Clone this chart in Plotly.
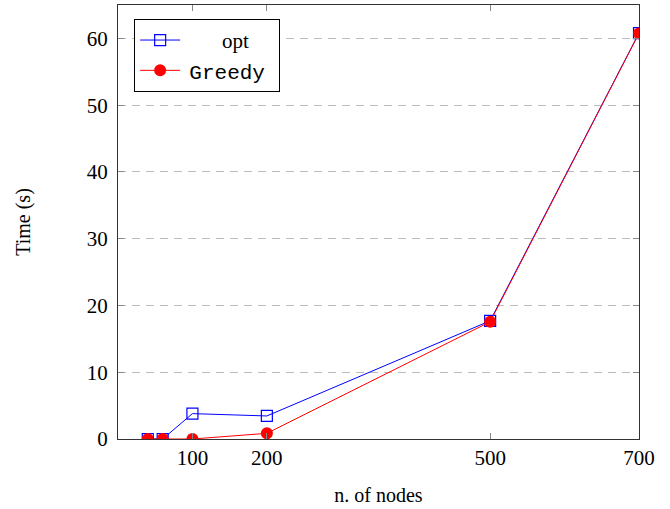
import plotly.graph_objects as go

nodes = [40, 60, 100, 200, 500, 700]
opt_time = [0.0, 0.0, 3.8, 3.45, 17.7, 60.8]
greedy_time = [0.0, 0.0, 0.0, 0.85, 17.55, 60.75]
x_ticks = [100, 200, 500, 700]
y_ticks = [0, 10, 20, 30, 40, 50, 60]

serif = "Liberation Serif, Times New Roman, serif"

fig = go.Figure()
fig.add_trace(go.Scatter(
    x=nodes, y=opt_time, mode="lines+markers", name="       opt",
    line=dict(color="blue", width=1),
    marker=dict(symbol="square-open", size=11, color="blue", line=dict(width=1.2, color="blue")),
))
fig.add_trace(go.Scatter(
    x=nodes, y=greedy_time, mode="lines+markers",
    name="<span style='font-family:Liberation Mono, monospace'>\u2009Greedy\u2009\u2009</span>",
    line=dict(color="red", width=1),
    marker=dict(symbol="circle", size=12, color="red"),
))

axis_common = dict(
    showline=True, linecolor="#333", linewidth=1.2, mirror="ticks",
    ticks="inside", ticklen=6, tickcolor="#888", tickwidth=1,
    tickfont=dict(family=serif, size=21, color="black"),
    zeroline=False,
)

fig.update_layout(
    width=670, height=509,
    margin=dict(l=118, r=31, t=5, b=70),
    paper_bgcolor="white", plot_bgcolor="white",
    font=dict(family=serif, size=21, color="black"),
    showlegend=True,
    legend=dict(
        x=0.031, y=0.968, xanchor="left", yanchor="top",
        bordercolor="black", borderwidth=1, bgcolor="white",
        font=dict(family=serif, size=21, color="black"),
        itemwidth=40, tracegroupgap=0,
    ),
    xaxis=dict(
        range=[0, 700], tickvals=x_ticks, ticktext=[str(v) for v in x_ticks],
        showgrid=False,
        title=dict(text="n. of nodes", font=dict(family=serif, size=20), standoff=18),
        **axis_common,
    ),
    yaxis=dict(
        range=[0, 65], tickvals=y_ticks, ticktext=[str(v) for v in y_ticks],
        showgrid=True, gridcolor="#bbb", griddash="8px,6px", gridwidth=1,
        ticklabelstandoff=5,
        title=dict(text="Time (s)", font=dict(family=serif, size=20), standoff=50),
        **axis_common,
    ),
)

fig.write_html("out.html", config={"displayModeBar": False},
               post_script="document.body.style.margin='0';")
